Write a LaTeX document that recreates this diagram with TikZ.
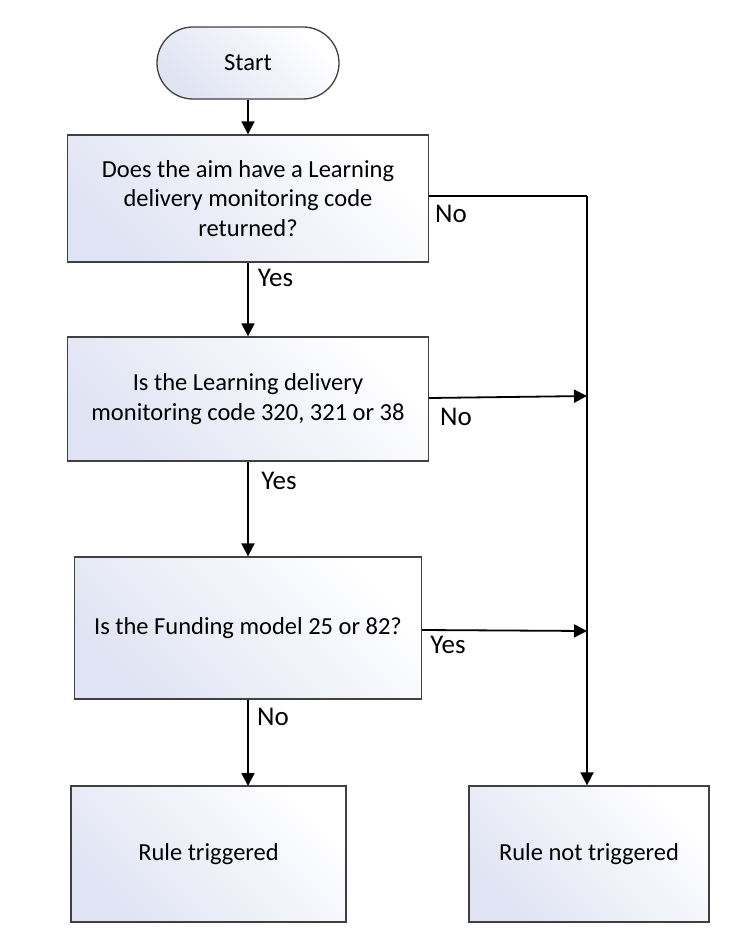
\documentclass[tikz,border=0pt]{standalone}
\usepackage{fontspec}
\setmainfont{Carlito}
\usetikzlibrary{arrows.meta}
\definecolor{lav}{HTML}{E0E3F3}
\tikzset{
  x=1pt,y=-1pt,
  box/.style={draw=black!75,line width=1.3pt,shade,top color=white,middle color=white,bottom color=lav,shading angle=-45,
    align=center,inner sep=0pt,font=\fontsize{24.5}{29.5}\selectfont},
  conn/.style={line width=1.8pt},
  arr/.style={conn,-{Triangle[length=13pt,width=13pt]}},
  lbl/.style={font=\fontsize{27}{28}\selectfont,inner sep=0pt}
}
\begin{document}
\begin{tikzpicture}
\useasboundingbox (0,0) rectangle (747,952);
\node[box,rounded corners=36pt,minimum width=182pt,minimum height=72pt] (start) at (248,63) {Start};
\node[box,minimum width=361pt,minimum height=127pt] (b1) at (248,198.5) {Does the aim have a Learning\\delivery monitoring code\\returned?};
\node[box,minimum width=361pt,minimum height=124pt] (b2) at (248,399) {Is the Learning delivery\\monitoring code 320, 321 or 38};
\node[box,minimum width=347pt,minimum height=142pt] (b3) at (248,628) {Is the Funding model 25 or 82?};
\node[box,minimum width=275pt,minimum height=136pt] (b4) at (208.5,854) {Rule triggered};
\node[box,minimum width=240pt,minimum height=136pt] (b5) at (589,854) {Rule not triggered};
\coordinate (c1) at (587,196);
\coordinate (c2) at (587,396);
\coordinate (c3) at (587,631);
\draw[arr] (start.south) -- (b1.north);
\draw[arr] (b1.south) -- (b2.north);
\draw[arr] (b2.south) -- (b3.north);
\draw[arr] (b3.south) -- (248,786);
\draw[conn] (b1.east |- c1) -- (c1);
\draw[arr] (c1) -- (c1 |- b5.north);
\draw[arr] (b2.east |- 0,398) -- (c2);
\draw[arr] (b3.east |- 0,630) -- (c3);
\node[lbl] (l1) at (451,214) {No};
\node[lbl] (l2) at (275.5,278) {Yes};
\node[lbl] (l3) at (456,417) {No};
\node[lbl] (l4) at (279,481) {Yes};
\node[lbl] (l5) at (448,645) {Yes};
\node[lbl] (l6) at (273,717) {No};
\end{tikzpicture}
\end{document}
